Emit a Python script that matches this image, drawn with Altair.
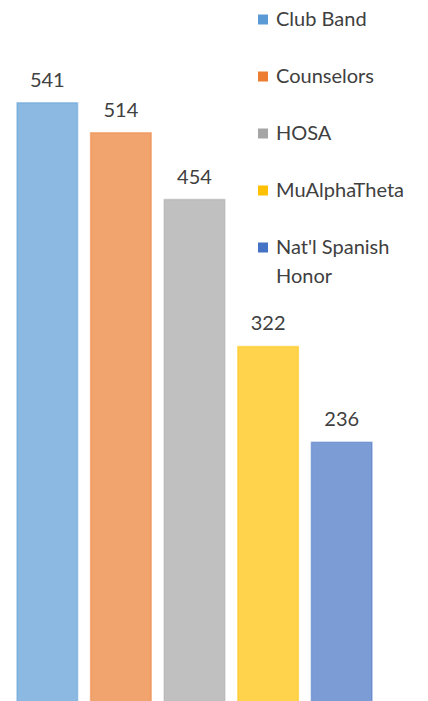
import altair as alt
import pandas as pd

categories = ["Club Band", "Counselors", "HOSA", "MuAlphaTheta", "Nat'l Spanish Honor"]
values = [541, 514, 454, 322, 236]
colors = ["#5B9BD5", "#ED7D31", "#A5A5A5", "#FFC000", "#4472C4"]

df = pd.DataFrame({"cat": categories, "val": values})

x_enc = alt.X("cat:N", sort=categories, axis=None,
              scale=alt.Scale(paddingInner=0.176, paddingOuter=0.122))
y_scale = alt.Scale(domain=[0, 626], nice=False, zero=True)
color_scale = alt.Scale(domain=categories, range=colors)

label_expr = 'datum.label === "Nat\'l Spanish Honor" ? ["Nat\'l Spanish", "Honor"] : datum.label'

bars = alt.Chart(df).mark_bar(fillOpacity=0.7, strokeWidth=1.5, strokeOpacity=0.45).encode(
    x=x_enc,
    y=alt.Y("val:Q", scale=y_scale, axis=None),
    color=alt.Color("cat:N", scale=color_scale, sort=categories,
                    legend=alt.Legend(title=None, orient="none", legendX=245, legendY=1.5,
                                      symbolType="square", symbolSize=100,
                                      symbolOpacity=1, symbolStrokeWidth=0,
                                      labelFont="Lato", labelFontSize=20,
                                      labelColor="#404040", rowPadding=37,
                                      labelOffset=3, labelLimit=200,
                                      labelExpr=label_expr)),
    stroke=alt.Stroke("cat:N", scale=color_scale, legend=None),
)

labels = alt.Chart(df).mark_text(font="Lato", fontSize=20, color="#404040",
                                  baseline="alphabetic", dy=-16).encode(
    x=x_enc,
    y=alt.Y("val:Q", scale=y_scale, axis=None),
    text=alt.Text("val:Q"),
)

chart = alt.layer(bars, labels).properties(
    width=373, height=697,
    autosize=alt.AutoSizeParams(type="none"),
    padding={"left": 0, "top": 0, "right": 39, "bottom": 0},
).configure(
    style={"guide-label": {"lineHeight": 29}},
    view={"stroke": None},
)

chart.save("out.html", embed_options={"renderer": "svg", "actions": False})
